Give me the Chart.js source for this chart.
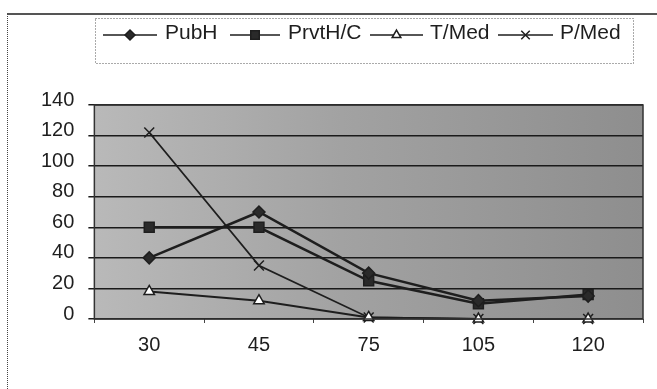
<!DOCTYPE html>
<html>
<head>
<meta charset="utf-8">
<script src="https://cdn.jsdelivr.net/npm/chart.js@4"></script>
<style>
    html, body { margin: 0; padding: 0; background: #fff; }
    #wrap { position: relative; width: 657px; height: 389px; }
    #frame { position: absolute; left: 7px; top: 13px; right: 0; bottom: -2px;
             border-left: 1px dotted #444; border-top: 2px solid #555; }
</style>
</head>
<body>
<div id="wrap">
    <div id="frame"></div>
    <canvas id="doseChart" width="657" height="389"></canvas>
</div>
<script>
// Doses (x-axis)
const doses = ['30', '45', '75', '105', '120'];

// Series
const pubH = [40, 70, 30, 12, 15];
const prvtHC = [60, 60, 25, 10, 16];
const tMed = [18, 12, 1, 0, 0];
const pMed = [122, 35, 1, 0, 0];

// Y ticks
const yMin = 0;
const yMax = 140;
const yStep = 20;

const FONT = '"Liberation Sans", Arial, sans-serif';
const INK = '#1e1e1e';

// Grey plot background
const plotBg = {
    id: 'plotBg',
    beforeDraw(chart) {
        const { ctx, chartArea: a } = chart;
        const g = ctx.createLinearGradient(a.left, 0, a.right, 0);
        g.addColorStop(0, '#b9b9b9');
        g.addColorStop(0.45, '#a2a2a2');
        g.addColorStop(1, '#8e8e8e');
        ctx.save();
        ctx.fillStyle = g;
        ctx.fillRect(a.left, a.top, a.right - a.left, a.bottom - a.top);
        ctx.restore();
    },
    afterDatasetsDraw(chart) {
        const { ctx, chartArea: a } = chart;
        ctx.save();
        ctx.strokeStyle = '#333';
        ctx.lineWidth = 1.5;
        ctx.strokeRect(a.left, a.top, a.right - a.left, a.bottom - a.top);
        ctx.restore();
    }
};

// Legend in a dotted box, each entry = line + marker + name
const boxLegend = {
    id: 'boxLegend',
    afterDraw(chart) {
        const ctx = chart.ctx;
        const box = { x: 95, y: 18, w: 538, h: 45 };
        const cy = 33;
        const slots = [
            { x1: 103, x2: 157, tx: 165 },
            { x1: 230, x2: 280, tx: 288 },
            { x1: 370, x2: 423, tx: 430 },
            { x1: 498, x2: 553, tx: 560 }
        ];
        ctx.save();
        ctx.strokeStyle = '#555';
        ctx.lineWidth = 1;
        ctx.setLineDash([1, 2]);
        ctx.strokeRect(box.x + 0.5, box.y + 0.5, box.w, box.h);
        ctx.setLineDash([]);
        chart.data.datasets.forEach((ds, i) => {
            const s = slots[i];
            ctx.strokeStyle = INK;
            ctx.lineWidth = 1.5;
            ctx.beginPath();
            ctx.moveTo(s.x1, cy + 2);
            ctx.lineTo(s.x2, cy + 2);
            ctx.stroke();
            ctx.fillStyle = ds.pointBackgroundColor;
            ctx.strokeStyle = ds.pointBorderColor;
            ctx.lineWidth = ds.pointBorderWidth;
            Chart.helpers.drawPoint(ctx, {
                pointStyle: ds.pointStyle,
                radius: ds.pointRadius - 1,
                rotation: 0,
                borderWidth: ds.pointBorderWidth
            }, (s.x1 + s.x2) / 2, cy + 2);
            ctx.fillStyle = INK;
            ctx.font = '21px ' + FONT;
            ctx.textBaseline = 'middle';
            ctx.fillText(ds.label, s.tx, cy);
        });
        ctx.restore();
    }
};

function series(label, data, style, fill, radius, width) {
    return {
        label: label,
        data: data,
        borderColor: INK,
        borderWidth: width,
        pointStyle: style,
        pointRadius: radius,
        pointHoverRadius: radius,
        pointBackgroundColor: fill,
        pointBorderColor: INK,
        pointBorderWidth: 1.5,
        tension: 0,
        clip: false
    };
}

new Chart(document.getElementById('doseChart'), {
    type: 'line',
    data: {
        labels: doses,
        datasets: [
            series('PubH', pubH, 'rectRot', '#2a2a2a', 6, 2.5),
            series('PrvtH/C', prvtHC, 'rect', '#2a2a2a', 7, 2.5),
            series('T/Med', tMed, 'triangle', '#ffffff', 6, 2),
            series('P/Med', pMed, 'crossRot', INK, 7, 1.8)
        ]
    },
    options: {
        responsive: false,
        animation: false,
        layout: { padding: { top: 105, left: 27, right: 14, bottom: 22 } },
        plugins: {
            legend: { display: false },
            tooltip: { enabled: false }
        },
        scales: {
            x: {
                offset: true,
                grid: {
                    offset: true,
                    drawOnChartArea: false,
                    tickLength: 4,
                    color: '#444'
                },
                border: { display: false },
                ticks: {
                    color: INK,
                    padding: 10,
                    font: { family: FONT, size: 20 }
                }
            },
            y: {
                min: yMin,
                max: yMax,
                grid: {
                    color: '#1a1a1a',
                    lineWidth: 1.5,
                    tickLength: 6
                },
                border: { display: false },
                ticks: {
                    stepSize: yStep,
                    color: INK,
                    padding: 14,
                    labelOffset: -5,
                    font: { family: FONT, size: 20 }
                }
            }
        }
    },
    plugins: [plotBg, boxLegend]
});
</script>
</body>
</html>
